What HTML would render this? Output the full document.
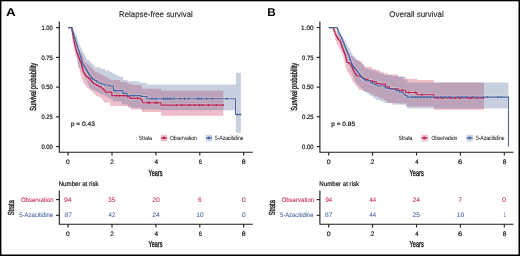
<!DOCTYPE html>
<html><head><meta charset="utf-8"><style>
html,body{margin:0;padding:0;background:#fff;}
svg{display:block;will-change:transform;}
text{font-family:"Liberation Sans",sans-serif;text-rendering:geometricPrecision;}
</style></head><body>
<svg width="520" height="256" viewBox="0 0 520 256">
<rect x="0" y="0" width="520" height="256" fill="#fff"/>
<path d="M68.10 27.60L71.40 27.60L71.40 27.60L71.77 27.60L71.77 28.80L72.14 28.80L72.14 30.00L72.51 30.00L72.51 31.20L72.89 31.20L72.89 32.40L73.26 32.40L73.26 33.60L73.63 33.60L73.63 34.80L74.00 34.80L74.00 36.00L74.33 36.00L74.33 37.33L74.67 37.33L74.67 38.67L75.00 38.67L75.00 40.00L75.33 40.00L75.33 41.33L75.67 41.33L75.67 42.67L76.00 42.67L76.00 44.00L76.60 44.00L76.60 45.20L77.20 45.20L77.20 46.40L77.80 46.40L77.80 47.60L78.40 47.60L78.40 48.80L79.00 48.80L79.00 50.00L79.76 50.00L79.76 51.20L80.52 51.20L80.52 52.40L81.28 52.40L81.28 53.60L82.04 53.60L82.04 54.80L82.80 54.80L82.80 56.00L83.12 56.00L83.12 57.25L83.44 57.25L83.44 58.50L83.76 58.50L83.76 59.75L84.08 59.75L84.08 61.00L84.40 61.00L84.40 62.25L86.07 62.25L86.07 63.50L87.73 63.50L87.73 64.75L89.40 64.75L89.40 66.00L90.95 66.00L90.95 67.55L92.50 67.55L92.50 69.10L93.75 69.10L93.75 70.55L95.00 70.55L95.00 72.00L98.25 72.00L98.25 73.50L101.50 73.50L101.50 75.00L103.69 75.00L103.69 76.25L105.88 76.25L105.88 77.50L108.06 77.50L108.06 78.75L110.25 78.75L110.25 80.00L120.00 80.00L120.00 81.90L127.50 81.90L127.50 83.75L132.50 83.75L132.50 85.00L141.90 85.00L141.90 88.75L161.25 88.75L161.25 90.80L223.40 90.80L223.40 90.80L223.40 115.80L223.40 115.80L161.00 115.80L161.00 112.00L142.00 112.00L142.00 109.60L130.90 109.60L130.90 107.70L127.75 107.70L127.75 106.10L110.25 106.10L110.25 102.40L104.00 102.40L104.00 101.20L103.25 101.20L103.25 100.00L102.50 100.00L102.50 99.00L101.50 99.00L101.50 98.00L100.50 98.00L100.50 97.00L98.30 97.00L98.30 96.00L96.10 96.00L96.10 95.00L95.17 95.00L95.17 94.00L94.25 94.00L94.25 93.00L93.00 93.00L93.00 92.00L91.75 92.00L91.75 91.00L90.83 91.00L90.83 90.00L89.90 90.00L89.90 89.00L88.40 89.00L88.40 88.00L86.90 88.00L86.90 86.67L85.93 86.67L85.93 85.33L84.97 85.33L84.97 84.00L84.00 84.00L84.00 82.67L83.33 82.67L83.33 81.33L82.67 81.33L82.67 80.00L82.00 80.00L82.00 78.67L81.65 78.67L81.65 77.33L81.30 77.33L81.30 76.00L80.95 76.00L80.95 74.67L80.60 74.67L80.60 73.33L80.25 73.33L80.25 72.00L79.90 72.00L79.90 70.67L79.59 70.67L79.59 69.33L79.28 69.33L79.28 68.00L78.97 68.00L78.97 66.67L78.66 66.67L78.66 65.33L78.34 65.33L78.34 64.00L78.03 64.00L78.03 62.67L77.72 62.67L77.72 61.33L77.41 61.33L77.41 60.00L77.10 60.00L77.10 58.67L76.68 58.67L76.68 57.33L76.27 57.33L76.27 56.00L75.85 56.00L75.85 54.67L75.43 54.67L75.43 53.33L75.02 53.33L75.02 52.00L74.60 52.00L74.60 50.67L74.29 50.67L74.29 49.33L73.98 49.33L73.98 48.00L73.67 48.00L73.67 46.67L73.37 46.67L73.37 45.33L73.06 45.33L73.06 44.00L72.75 44.00L72.75 42.67L72.59 42.67L72.59 41.33L72.43 41.33L72.43 40.00L72.28 40.00L72.28 38.67L72.12 38.67L72.12 37.33L71.96 37.33L71.96 36.00L71.80 36.00L71.80 34.80L71.74 34.80L71.74 33.60L71.69 33.60L71.69 32.40L71.63 32.40L71.63 31.20L71.57 31.20L71.57 30.00L71.51 30.00L71.51 28.80L71.46 28.80L71.46 27.60L71.40 27.60L71.40 27.60L68.10 27.60Z" fill="#C2183F" fill-opacity="0.28"/>
<path d="M68.10 27.60L71.80 27.60L71.80 27.60L72.47 27.60L72.47 28.80L73.14 28.80L73.14 30.00L73.81 30.00L73.81 31.20L74.49 31.20L74.49 32.40L75.16 32.40L75.16 33.60L75.83 33.60L75.83 34.80L76.50 34.80L76.50 36.00L76.92 36.00L76.92 37.33L77.33 37.33L77.33 38.67L77.75 38.67L77.75 40.00L78.17 40.00L78.17 41.33L78.58 41.33L78.58 42.67L79.00 42.67L79.00 44.00L79.62 44.00L79.62 45.33L80.25 45.33L80.25 46.67L80.88 46.67L80.88 48.00L81.50 48.00L81.50 49.33L82.12 49.33L82.12 50.67L82.75 50.67L82.75 52.00L83.47 52.00L83.47 53.33L84.20 53.33L84.20 54.67L84.92 54.67L84.92 56.00L85.65 56.00L85.65 57.33L86.38 57.33L86.38 58.67L87.10 58.67L87.10 60.00L89.30 60.00L89.30 61.50L90.72 61.50L90.72 62.92L92.15 62.92L92.15 64.35L93.58 64.35L93.58 65.78L95.00 65.78L95.00 67.20L100.60 67.20L100.60 69.10L105.00 69.10L105.00 70.55L109.40 70.55L109.40 72.00L112.18 72.00L112.18 73.42L114.97 73.42L114.97 74.83L117.75 74.83L117.75 76.25L120.00 76.25L120.00 76.90L123.10 76.90L123.10 80.00L127.50 80.00L127.50 81.25L139.40 81.25L139.40 82.75L146.90 82.75L146.90 84.60L235.90 84.60L235.90 72.75L240.90 72.75L240.90 72.75L240.90 132.75L240.90 132.75L235.90 132.75L235.90 110.20L161.00 110.20L161.00 109.40L141.00 109.40L141.00 107.75L131.00 107.75L131.00 106.10L127.75 106.10L127.75 104.25L122.00 104.25L122.00 101.40L113.40 101.40L113.40 100.00L112.40 100.00L112.40 99.00L110.50 99.00L110.50 98.00L108.60 98.00L108.60 97.00L106.75 97.00L106.75 96.00L104.90 96.00L104.90 95.00L102.70 95.00L102.70 94.00L100.50 94.00L100.50 93.00L98.62 93.00L98.62 92.00L96.75 92.00L96.75 91.00L94.58 91.00L94.58 90.00L92.40 90.00L92.40 89.00L90.95 89.00L90.95 88.00L89.50 88.00L89.50 86.67L89.03 86.67L89.03 85.33L88.57 85.33L88.57 84.00L88.10 84.00L88.10 82.67L87.40 82.67L87.40 81.33L86.70 81.33L86.70 80.00L86.00 80.00L86.00 78.67L85.38 78.67L85.38 77.33L84.77 77.33L84.77 76.00L84.15 76.00L84.15 74.67L83.53 74.67L83.53 73.33L82.92 73.33L82.92 72.00L82.30 72.00L82.30 70.67L81.03 70.67L81.03 69.33L79.77 69.33L79.77 68.00L78.50 68.00L78.50 66.67L78.28 66.67L78.28 65.33L78.06 65.33L78.06 64.00L77.83 64.00L77.83 62.67L77.61 62.67L77.61 61.33L77.39 61.33L77.39 60.00L77.17 60.00L77.17 58.67L76.94 58.67L76.94 57.33L76.72 57.33L76.72 56.00L76.50 56.00L76.50 54.67L76.29 54.67L76.29 53.33L76.08 53.33L76.08 52.00L75.87 52.00L75.87 50.67L75.66 50.67L75.66 49.33L75.44 49.33L75.44 48.00L75.23 48.00L75.23 46.67L75.02 46.67L75.02 45.33L74.81 45.33L74.81 44.00L74.60 44.00L74.60 42.67L74.30 42.67L74.30 41.33L74.00 41.33L74.00 40.00L73.70 40.00L73.70 38.67L73.40 38.67L73.40 37.33L73.10 37.33L73.10 36.00L72.80 36.00L72.80 34.80L72.66 34.80L72.66 33.60L72.51 33.60L72.51 32.40L72.37 32.40L72.37 31.20L72.23 31.20L72.23 30.00L72.09 30.00L72.09 28.80L71.94 28.80L71.94 27.60L71.80 27.60L71.80 27.60L68.10 27.60Z" fill="#4A6396" fill-opacity="0.3"/>
<path d="M68.10 27.60L71.40 27.60L71.40 27.60L71.63 27.60L71.63 28.80L71.86 28.80L71.86 30.00L72.09 30.00L72.09 31.20L72.31 31.20L72.31 32.40L72.54 32.40L72.54 33.60L72.77 33.60L72.77 34.80L73.00 34.80L73.00 36.00L73.27 36.00L73.27 37.33L73.53 37.33L73.53 38.67L73.80 38.67L73.80 40.00L74.07 40.00L74.07 41.33L74.33 41.33L74.33 42.67L74.60 42.67L74.60 44.00L74.92 44.00L74.92 45.33L75.23 45.33L75.23 46.67L75.55 46.67L75.55 48.00L75.87 48.00L75.87 49.33L76.18 49.33L76.18 50.67L76.50 50.67L76.50 52.00L77.02 52.00L77.02 53.33L77.53 53.33L77.53 54.67L78.05 54.67L78.05 56.00L78.57 56.00L78.57 57.33L79.08 57.33L79.08 58.67L79.60 58.67L79.60 60.00L80.15 60.00L80.15 61.33L80.70 61.33L80.70 62.67L81.25 62.67L81.25 64.00L81.59 64.00L81.59 65.33L81.93 65.33L81.93 66.67L82.28 66.67L82.28 68.00L82.62 68.00L82.62 69.33L82.96 69.33L82.96 70.67L83.30 70.67L83.30 72.00L84.03 72.00L84.03 73.33L84.77 73.33L84.77 74.67L85.50 74.67L85.50 76.00L87.07 76.00L87.07 77.33L88.63 77.33L88.63 78.67L90.20 78.67L90.20 80.00L91.33 80.00L91.33 81.33L92.47 81.33L92.47 82.67L93.60 82.67L93.60 84.00L96.10 84.00L96.10 85.33L98.60 85.33L98.60 86.67L101.10 86.67L101.10 88.00L102.55 88.00L102.55 89.12L104.00 89.12L104.00 90.25L105.25 90.25L105.25 92.10L111.80 92.10L111.80 95.60L127.10 95.60L127.10 96.80L130.25 96.80L130.25 98.40L141.00 98.40L141.00 100.25L142.50 100.25L142.50 102.75L161.00 102.75L161.00 105.10L223.75 105.10L223.75 105.10" fill="none" stroke="#fff" stroke-opacity="0.22" stroke-width="3.0"/>
<path d="M68.10 27.60L71.80 27.60L71.80 27.60L72.11 27.60L72.11 28.80L72.43 28.80L72.43 30.00L72.74 30.00L72.74 31.20L73.06 31.20L73.06 32.40L73.37 32.40L73.37 33.60L73.69 33.60L73.69 34.80L74.00 34.80L74.00 36.00L74.42 36.00L74.42 37.33L74.83 37.33L74.83 38.67L75.25 38.67L75.25 40.00L75.67 40.00L75.67 41.33L76.08 41.33L76.08 42.67L76.50 42.67L76.50 44.00L76.92 44.00L76.92 45.33L77.33 45.33L77.33 46.67L77.75 46.67L77.75 48.00L78.17 48.00L78.17 49.33L78.58 49.33L78.58 50.67L79.00 50.67L79.00 52.00L79.42 52.00L79.42 53.33L79.83 53.33L79.83 54.67L80.25 54.67L80.25 56.00L80.67 56.00L80.67 57.33L81.08 57.33L81.08 58.67L81.50 58.67L81.50 60.00L81.83 60.00L81.83 61.33L82.17 61.33L82.17 62.67L82.50 62.67L82.50 64.00L83.32 64.00L83.32 65.33L84.13 65.33L84.13 66.67L84.95 66.67L84.95 68.00L85.77 68.00L85.77 69.33L86.58 69.33L86.58 70.67L87.40 70.67L87.40 72.00L88.13 72.00L88.13 73.33L88.87 73.33L88.87 74.67L89.60 74.67L89.60 76.00L91.00 76.00L91.00 77.50L92.40 77.50L92.40 79.00L94.58 79.00L94.58 80.50L96.75 80.50L96.75 82.00L98.92 82.00L98.92 83.00L101.10 83.00L101.10 84.00L104.25 84.00L104.25 85.00L109.25 85.00L109.25 86.00L113.40 86.00L113.40 90.60L122.75 90.60L122.75 93.40L127.10 93.40L127.10 95.60L141.00 95.60L141.00 96.50L146.90 96.50L146.90 98.70L235.50 98.70L235.50 114.50L241.50 114.50L241.50 114.50" fill="none" stroke="#fff" stroke-opacity="0.22" stroke-width="3.0"/>
<path d="M68.10 27.60L71.40 27.60L71.40 27.60L71.63 27.60L71.63 28.80L71.86 28.80L71.86 30.00L72.09 30.00L72.09 31.20L72.31 31.20L72.31 32.40L72.54 32.40L72.54 33.60L72.77 33.60L72.77 34.80L73.00 34.80L73.00 36.00L73.27 36.00L73.27 37.33L73.53 37.33L73.53 38.67L73.80 38.67L73.80 40.00L74.07 40.00L74.07 41.33L74.33 41.33L74.33 42.67L74.60 42.67L74.60 44.00L74.92 44.00L74.92 45.33L75.23 45.33L75.23 46.67L75.55 46.67L75.55 48.00L75.87 48.00L75.87 49.33L76.18 49.33L76.18 50.67L76.50 50.67L76.50 52.00L77.02 52.00L77.02 53.33L77.53 53.33L77.53 54.67L78.05 54.67L78.05 56.00L78.57 56.00L78.57 57.33L79.08 57.33L79.08 58.67L79.60 58.67L79.60 60.00L80.15 60.00L80.15 61.33L80.70 61.33L80.70 62.67L81.25 62.67L81.25 64.00L81.59 64.00L81.59 65.33L81.93 65.33L81.93 66.67L82.28 66.67L82.28 68.00L82.62 68.00L82.62 69.33L82.96 69.33L82.96 70.67L83.30 70.67L83.30 72.00L84.03 72.00L84.03 73.33L84.77 73.33L84.77 74.67L85.50 74.67L85.50 76.00L87.07 76.00L87.07 77.33L88.63 77.33L88.63 78.67L90.20 78.67L90.20 80.00L91.33 80.00L91.33 81.33L92.47 81.33L92.47 82.67L93.60 82.67L93.60 84.00L96.10 84.00L96.10 85.33L98.60 85.33L98.60 86.67L101.10 86.67L101.10 88.00L102.55 88.00L102.55 89.12L104.00 89.12L104.00 90.25L105.25 90.25L105.25 92.10L111.80 92.10L111.80 95.60L127.10 95.60L127.10 96.80L130.25 96.80L130.25 98.40L141.00 98.40L141.00 100.25L142.50 100.25L142.50 102.75L161.00 102.75L161.00 105.10L223.75 105.10L223.75 105.10" fill="none" stroke="#BF2350" stroke-width="1.15"/>
<path d="M68.10 27.60L71.80 27.60L71.80 27.60L72.11 27.60L72.11 28.80L72.43 28.80L72.43 30.00L72.74 30.00L72.74 31.20L73.06 31.20L73.06 32.40L73.37 32.40L73.37 33.60L73.69 33.60L73.69 34.80L74.00 34.80L74.00 36.00L74.42 36.00L74.42 37.33L74.83 37.33L74.83 38.67L75.25 38.67L75.25 40.00L75.67 40.00L75.67 41.33L76.08 41.33L76.08 42.67L76.50 42.67L76.50 44.00L76.92 44.00L76.92 45.33L77.33 45.33L77.33 46.67L77.75 46.67L77.75 48.00L78.17 48.00L78.17 49.33L78.58 49.33L78.58 50.67L79.00 50.67L79.00 52.00L79.42 52.00L79.42 53.33L79.83 53.33L79.83 54.67L80.25 54.67L80.25 56.00L80.67 56.00L80.67 57.33L81.08 57.33L81.08 58.67L81.50 58.67L81.50 60.00L81.83 60.00L81.83 61.33L82.17 61.33L82.17 62.67L82.50 62.67L82.50 64.00L83.32 64.00L83.32 65.33L84.13 65.33L84.13 66.67L84.95 66.67L84.95 68.00L85.77 68.00L85.77 69.33L86.58 69.33L86.58 70.67L87.40 70.67L87.40 72.00L88.13 72.00L88.13 73.33L88.87 73.33L88.87 74.67L89.60 74.67L89.60 76.00L91.00 76.00L91.00 77.50L92.40 77.50L92.40 79.00L94.58 79.00L94.58 80.50L96.75 80.50L96.75 82.00L98.92 82.00L98.92 83.00L101.10 83.00L101.10 84.00L104.25 84.00L104.25 85.00L109.25 85.00L109.25 86.00L113.40 86.00L113.40 90.60L122.75 90.60L122.75 93.40L127.10 93.40L127.10 95.60L141.00 95.60L141.00 96.50L146.90 96.50L146.90 98.70L235.50 98.70L235.50 114.50L241.50 114.50L241.50 114.50" fill="none" stroke="#4A66A2" stroke-width="1.1"/>
<g fill="#BF2350"><ellipse cx="116.50" cy="95.60" rx="0.75" ry="1.2"/><ellipse cx="119.30" cy="95.60" rx="0.75" ry="1.2"/><ellipse cx="124.00" cy="95.60" rx="0.75" ry="1.2"/><ellipse cx="137.50" cy="98.40" rx="0.75" ry="1.2"/><ellipse cx="148.00" cy="102.75" rx="0.75" ry="1.2"/><ellipse cx="149.40" cy="102.75" rx="0.75" ry="1.2"/><ellipse cx="155.00" cy="102.75" rx="0.75" ry="1.2"/><ellipse cx="157.00" cy="102.75" rx="0.75" ry="1.2"/><ellipse cx="176.60" cy="105.10" rx="0.75" ry="1.2"/><ellipse cx="182.00" cy="105.10" rx="0.75" ry="1.2"/><ellipse cx="189.40" cy="105.10" rx="0.75" ry="1.2"/><ellipse cx="194.50" cy="105.10" rx="0.75" ry="1.2"/><ellipse cx="199.50" cy="105.10" rx="0.75" ry="1.2"/><ellipse cx="202.50" cy="105.10" rx="0.75" ry="1.2"/><ellipse cx="208.50" cy="105.10" rx="0.75" ry="1.2"/><ellipse cx="216.50" cy="105.10" rx="0.75" ry="1.2"/><ellipse cx="223.00" cy="105.10" rx="0.75" ry="1.2"/></g>
<g fill="#4A66A2"><ellipse cx="92.50" cy="79.00" rx="0.75" ry="1.2"/><ellipse cx="115.00" cy="90.60" rx="0.75" ry="1.2"/><ellipse cx="133.40" cy="95.60" rx="0.75" ry="1.2"/><ellipse cx="152.00" cy="98.70" rx="0.75" ry="1.2"/><ellipse cx="156.00" cy="98.70" rx="0.75" ry="1.2"/><ellipse cx="163.40" cy="98.70" rx="0.75" ry="1.2"/><ellipse cx="165.30" cy="98.70" rx="0.75" ry="1.2"/><ellipse cx="167.50" cy="98.70" rx="0.75" ry="1.2"/><ellipse cx="169.40" cy="98.70" rx="0.75" ry="1.2"/><ellipse cx="171.20" cy="98.70" rx="0.75" ry="1.2"/><ellipse cx="174.00" cy="98.70" rx="0.75" ry="1.2"/><ellipse cx="180.30" cy="98.70" rx="0.75" ry="1.2"/><ellipse cx="184.40" cy="98.70" rx="0.75" ry="1.2"/><ellipse cx="188.30" cy="98.70" rx="0.75" ry="1.2"/><ellipse cx="197.50" cy="98.70" rx="0.75" ry="1.2"/><ellipse cx="199.00" cy="98.70" rx="0.75" ry="1.2"/><ellipse cx="201.50" cy="98.70" rx="0.75" ry="1.2"/><ellipse cx="206.50" cy="98.70" rx="0.75" ry="1.2"/><ellipse cx="212.50" cy="98.70" rx="0.75" ry="1.2"/><ellipse cx="227.00" cy="98.70" rx="0.75" ry="1.2"/><ellipse cx="237.50" cy="114.50" rx="0.75" ry="1.2"/><ellipse cx="240.00" cy="114.50" rx="0.75" ry="1.2"/></g>
<path d="M328.80 27.60L333.00 27.60L333.00 27.60L334.00 27.60L334.00 28.88L335.00 28.88L335.00 30.16L336.00 30.16L336.00 31.44L337.00 31.44L337.00 32.72L338.00 32.72L338.00 34.00L338.67 34.00L338.67 35.33L339.33 35.33L339.33 36.67L340.00 36.67L340.00 38.00L340.67 38.00L340.67 39.33L341.33 39.33L341.33 40.67L342.00 40.67L342.00 42.00L342.83 42.00L342.83 43.33L343.67 43.33L343.67 44.67L344.50 44.67L344.50 46.00L345.33 46.00L345.33 47.33L346.17 47.33L346.17 48.67L347.00 48.67L347.00 50.00L347.75 50.00L347.75 51.20L348.50 51.20L348.50 52.40L349.25 52.40L349.25 53.60L350.00 53.60L350.00 54.80L350.75 54.80L350.75 56.00L352.50 56.00L352.50 57.33L354.25 57.33L354.25 58.67L356.00 58.67L356.00 60.00L358.50 60.00L358.50 61.25L361.00 61.25L361.00 62.50L362.25 62.50L362.25 64.00L363.62 64.00L363.62 65.50L365.00 65.50L365.00 67.00L371.90 67.00L371.90 68.90L375.60 68.90L375.60 70.10L379.68 70.10L379.68 71.67L383.75 71.67L383.75 73.25L388.00 73.25L388.00 74.50L398.00 74.50L398.00 77.00L406.00 77.00L406.00 78.75L417.00 78.75L417.00 80.00L433.90 80.00L433.90 82.60L484.00 82.60L484.00 82.60L484.00 109.80L484.00 109.80L433.90 109.80L433.90 106.60L407.00 106.60L407.00 103.50L398.25 103.50L398.25 103.00L387.50 103.00L387.50 101.50L385.62 101.50L385.62 100.00L383.75 100.00L383.75 98.67L380.63 98.67L380.63 97.33L377.52 97.33L377.52 96.00L374.40 96.00L374.40 94.67L371.68 94.67L371.68 93.33L368.97 93.33L368.97 92.00L366.25 92.00L366.25 91.00L362.62 91.00L362.62 90.00L359.00 90.00L359.00 88.67L357.97 88.67L357.97 87.33L356.93 87.33L356.93 86.00L355.90 86.00L355.90 84.67L354.85 84.67L354.85 83.33L353.80 83.33L353.80 82.00L352.75 82.00L352.75 80.80L352.25 80.80L352.25 79.60L351.75 79.60L351.75 78.40L351.25 78.40L351.25 77.20L350.75 77.20L350.75 76.00L350.25 76.00L350.25 74.67L349.20 74.67L349.20 73.33L348.15 73.33L348.15 72.00L347.10 72.00L347.10 70.67L346.73 70.67L346.73 69.33L346.37 69.33L346.37 68.00L346.00 68.00L346.00 66.67L345.63 66.67L345.63 65.33L345.27 65.33L345.27 64.00L344.90 64.00L344.90 62.67L344.53 62.67L344.53 61.33L344.17 61.33L344.17 60.00L343.80 60.00L343.80 58.67L343.50 58.67L343.50 57.33L343.20 57.33L343.20 56.00L342.90 56.00L342.90 54.67L342.23 54.67L342.23 53.33L341.57 53.33L341.57 52.00L340.90 52.00L340.90 50.67L340.23 50.67L340.23 49.33L339.57 49.33L339.57 48.00L338.90 48.00L338.90 46.67L338.27 46.67L338.27 45.33L337.63 45.33L337.63 44.00L337.00 44.00L337.00 42.67L336.37 42.67L336.37 41.33L335.73 41.33L335.73 40.00L335.10 40.00L335.10 38.76L334.89 38.76L334.89 37.52L334.68 37.52L334.68 36.28L334.47 36.28L334.47 35.04L334.26 35.04L334.26 33.80L334.05 33.80L334.05 32.56L333.84 32.56L333.84 31.32L333.63 31.32L333.63 30.08L333.42 30.08L333.42 28.84L333.21 28.84L333.21 27.60L333.00 27.60L333.00 27.60L328.80 27.60Z" fill="#C2183F" fill-opacity="0.28"/>
<path d="M328.80 27.60L336.75 27.60L336.75 27.60L337.50 27.60L337.50 28.88L338.25 28.88L338.25 30.16L339.00 30.16L339.00 31.44L339.75 31.44L339.75 32.72L340.50 32.72L340.50 34.00L341.30 34.00L341.30 35.20L342.10 35.20L342.10 36.40L342.90 36.40L342.90 37.60L343.70 37.60L343.70 38.80L344.50 38.80L344.50 40.00L345.17 40.00L345.17 41.33L345.83 41.33L345.83 42.67L346.50 42.67L346.50 44.00L347.17 44.00L347.17 45.33L347.83 45.33L347.83 46.67L348.50 46.67L348.50 48.00L349.25 48.00L349.25 49.33L350.00 49.33L350.00 50.67L350.75 50.67L350.75 52.00L351.50 52.00L351.50 53.33L352.25 53.33L352.25 54.67L353.00 54.67L353.00 56.00L354.20 56.00L354.20 57.33L355.40 57.33L355.40 58.67L356.60 58.67L356.60 60.00L358.55 60.00L358.55 61.25L360.50 61.25L360.50 62.50L361.38 62.50L361.38 63.50L362.25 63.50L362.25 64.50L363.17 64.50L363.17 65.83L364.08 65.83L364.08 67.17L365.00 67.17L365.00 68.50L368.45 68.50L368.45 69.50L371.90 69.50L371.90 70.50L375.60 70.50L375.60 71.50L378.32 71.50L378.32 72.67L381.03 72.67L381.03 73.83L383.75 73.83L383.75 75.00L392.00 75.00L392.00 76.00L398.00 76.00L398.00 76.25L403.60 76.25L403.60 79.50L407.40 79.50L407.40 82.40L508.50 82.40L508.50 82.40L508.50 108.50L508.50 108.50L484.00 108.50L484.00 108.50L407.00 108.50L407.00 106.50L405.00 106.50L405.00 104.70L398.25 104.70L398.25 104.50L392.00 104.50L392.00 103.00L384.40 103.00L384.40 101.50L380.32 101.50L380.32 100.00L376.25 100.00L376.25 98.67L374.37 98.67L374.37 97.33L372.48 97.33L372.48 96.00L370.60 96.00L370.60 94.67L368.53 94.67L368.53 93.33L366.47 93.33L366.47 92.00L364.40 92.00L364.40 90.67L363.13 90.67L363.13 89.33L361.87 89.33L361.87 88.00L360.60 88.00L360.60 86.80L359.48 86.80L359.48 85.60L358.36 85.60L358.36 84.40L357.24 84.40L357.24 83.20L356.12 83.20L356.12 82.00L355.00 82.00L355.00 80.75L354.56 80.75L354.56 79.50L354.12 79.50L354.12 78.25L353.69 78.25L353.69 77.00L353.25 77.00L353.25 75.75L352.81 75.75L352.81 74.50L352.38 74.50L352.38 73.25L351.94 73.25L351.94 72.00L351.50 72.00L351.50 70.67L350.89 70.67L350.89 69.33L350.28 69.33L350.28 68.00L349.67 68.00L349.67 66.67L349.06 66.67L349.06 65.33L348.44 65.33L348.44 64.00L347.83 64.00L347.83 62.67L347.22 62.67L347.22 61.33L346.61 61.33L346.61 60.00L346.00 60.00L346.00 58.75L345.50 58.75L345.50 57.50L345.00 57.50L345.00 56.25L344.50 56.25L344.50 55.00L344.00 55.00L344.00 53.75L343.50 53.75L343.50 52.50L343.00 52.50L343.00 51.25L342.50 51.25L342.50 50.00L342.00 50.00L342.00 48.75L341.50 48.75L341.50 47.50L341.00 47.50L341.00 46.25L340.50 46.25L340.50 45.00L340.00 45.00L340.00 43.75L339.50 43.75L339.50 42.50L339.00 42.50L339.00 41.25L338.50 41.25L338.50 40.00L338.00 40.00L338.00 38.76L337.88 38.76L337.88 37.52L337.75 37.52L337.75 36.28L337.62 36.28L337.62 35.04L337.50 35.04L337.50 33.80L337.38 33.80L337.38 32.56L337.25 32.56L337.25 31.32L337.12 31.32L337.12 30.08L337.00 30.08L337.00 28.84L336.88 28.84L336.88 27.60L336.75 27.60L336.75 27.60L328.80 27.60Z" fill="#4A6396" fill-opacity="0.3"/>
<path d="M328.80 27.60L333.00 27.60L333.00 27.60L333.44 27.60L333.44 28.88L333.88 28.88L333.88 30.16L334.32 30.16L334.32 31.44L334.76 31.44L334.76 32.72L335.20 32.72L335.20 34.00L335.81 34.00L335.81 35.20L336.42 35.20L336.42 36.40L337.03 36.40L337.03 37.60L337.64 37.60L337.64 38.80L338.25 38.80L338.25 40.00L340.10 40.00L340.10 41.00L340.47 41.00L340.47 42.17L340.83 42.17L340.83 43.33L341.20 43.33L341.20 44.50L341.57 44.50L341.57 45.67L341.93 45.67L341.93 46.83L342.30 46.83L342.30 48.00L342.82 48.00L342.82 49.33L343.33 49.33L343.33 50.67L343.85 50.67L343.85 52.00L344.37 52.00L344.37 53.33L344.88 53.33L344.88 54.67L345.40 54.67L345.40 56.00L345.70 56.00L345.70 57.33L346.00 57.33L346.00 58.67L346.30 58.67L346.30 60.00L346.60 60.00L346.60 61.25L346.90 61.25L346.90 62.50L348.95 62.50L348.95 63.75L351.00 63.75L351.00 65.00L351.50 65.00L351.50 66.17L352.00 66.17L352.00 67.33L352.50 67.33L352.50 68.50L353.00 68.50L353.00 69.67L353.50 69.67L353.50 70.83L354.00 70.83L354.00 72.00L354.83 72.00L354.83 73.33L355.67 73.33L355.67 74.67L356.50 74.67L356.50 76.00L360.00 76.00L360.00 77.00L362.50 77.00L362.50 78.20L365.00 78.20L365.00 79.40L368.10 79.40L368.10 80.70L372.50 80.70L372.50 81.60L376.25 81.60L376.25 83.50L380.00 83.50L380.00 84.10L385.60 84.10L385.60 86.90L389.40 86.90L389.40 88.80L398.25 88.80L398.25 90.25L405.75 90.25L405.75 92.50L417.00 92.50L417.00 94.75L433.90 94.75L433.90 97.90L484.00 97.90L484.00 97.90" fill="none" stroke="#fff" stroke-opacity="0.22" stroke-width="3.0"/>
<path d="M328.80 27.60L336.75 27.60L336.75 27.60L337.25 27.60L337.25 28.88L337.75 28.88L337.75 30.16L338.25 30.16L338.25 31.44L338.75 31.44L338.75 32.72L339.25 32.72L339.25 34.00L339.86 34.00L339.86 35.20L340.47 35.20L340.47 36.40L341.08 36.40L341.08 37.60L341.69 37.60L341.69 38.80L342.30 38.80L342.30 40.00L342.82 40.00L342.82 41.33L343.33 41.33L343.33 42.67L343.85 42.67L343.85 44.00L344.37 44.00L344.37 45.33L344.88 45.33L344.88 46.67L345.40 46.67L345.40 48.00L345.97 48.00L345.97 49.33L346.53 49.33L346.53 50.67L347.10 50.67L347.10 52.00L347.67 52.00L347.67 53.33L348.23 53.33L348.23 54.67L348.80 54.67L348.80 56.00L349.20 56.00L349.20 57.33L349.60 57.33L349.60 58.67L350.00 58.67L350.00 60.00L350.50 60.00L350.50 61.25L351.00 61.25L351.00 62.50L351.53 62.50L351.53 63.67L352.07 63.67L352.07 64.83L352.60 64.83L352.60 66.00L353.56 66.00L353.56 67.20L354.52 67.20L354.52 68.40L355.48 68.40L355.48 69.60L356.44 69.60L356.44 70.80L357.40 70.80L357.40 72.00L358.35 72.00L358.35 73.33L359.30 73.33L359.30 74.67L360.25 74.67L360.25 76.00L361.44 76.00L361.44 77.17L362.62 77.17L362.62 78.35L363.81 78.35L363.81 79.53L365.00 79.53L365.00 80.70L370.60 80.70L370.60 82.60L372.80 82.60L372.80 83.80L375.00 83.80L375.00 85.00L377.50 85.00L377.50 86.00L385.00 86.00L385.00 87.90L387.50 87.90L387.50 88.50L392.00 88.50L392.00 89.25L395.75 89.25L395.75 90.67L399.50 90.67L399.50 92.10L403.25 92.10L403.25 94.00L405.12 94.00L405.12 95.55L407.00 95.55L407.00 97.10L508.50 97.10L508.50 146.60" fill="none" stroke="#fff" stroke-opacity="0.22" stroke-width="3.0"/>
<path d="M328.80 27.60L333.00 27.60L333.00 27.60L333.44 27.60L333.44 28.88L333.88 28.88L333.88 30.16L334.32 30.16L334.32 31.44L334.76 31.44L334.76 32.72L335.20 32.72L335.20 34.00L335.81 34.00L335.81 35.20L336.42 35.20L336.42 36.40L337.03 36.40L337.03 37.60L337.64 37.60L337.64 38.80L338.25 38.80L338.25 40.00L340.10 40.00L340.10 41.00L340.47 41.00L340.47 42.17L340.83 42.17L340.83 43.33L341.20 43.33L341.20 44.50L341.57 44.50L341.57 45.67L341.93 45.67L341.93 46.83L342.30 46.83L342.30 48.00L342.82 48.00L342.82 49.33L343.33 49.33L343.33 50.67L343.85 50.67L343.85 52.00L344.37 52.00L344.37 53.33L344.88 53.33L344.88 54.67L345.40 54.67L345.40 56.00L345.70 56.00L345.70 57.33L346.00 57.33L346.00 58.67L346.30 58.67L346.30 60.00L346.60 60.00L346.60 61.25L346.90 61.25L346.90 62.50L348.95 62.50L348.95 63.75L351.00 63.75L351.00 65.00L351.50 65.00L351.50 66.17L352.00 66.17L352.00 67.33L352.50 67.33L352.50 68.50L353.00 68.50L353.00 69.67L353.50 69.67L353.50 70.83L354.00 70.83L354.00 72.00L354.83 72.00L354.83 73.33L355.67 73.33L355.67 74.67L356.50 74.67L356.50 76.00L360.00 76.00L360.00 77.00L362.50 77.00L362.50 78.20L365.00 78.20L365.00 79.40L368.10 79.40L368.10 80.70L372.50 80.70L372.50 81.60L376.25 81.60L376.25 83.50L380.00 83.50L380.00 84.10L385.60 84.10L385.60 86.90L389.40 86.90L389.40 88.80L398.25 88.80L398.25 90.25L405.75 90.25L405.75 92.50L417.00 92.50L417.00 94.75L433.90 94.75L433.90 97.90L484.00 97.90L484.00 97.90" fill="none" stroke="#BF2350" stroke-width="1.15"/>
<path d="M328.80 27.60L336.75 27.60L336.75 27.60L337.25 27.60L337.25 28.88L337.75 28.88L337.75 30.16L338.25 30.16L338.25 31.44L338.75 31.44L338.75 32.72L339.25 32.72L339.25 34.00L339.86 34.00L339.86 35.20L340.47 35.20L340.47 36.40L341.08 36.40L341.08 37.60L341.69 37.60L341.69 38.80L342.30 38.80L342.30 40.00L342.82 40.00L342.82 41.33L343.33 41.33L343.33 42.67L343.85 42.67L343.85 44.00L344.37 44.00L344.37 45.33L344.88 45.33L344.88 46.67L345.40 46.67L345.40 48.00L345.97 48.00L345.97 49.33L346.53 49.33L346.53 50.67L347.10 50.67L347.10 52.00L347.67 52.00L347.67 53.33L348.23 53.33L348.23 54.67L348.80 54.67L348.80 56.00L349.20 56.00L349.20 57.33L349.60 57.33L349.60 58.67L350.00 58.67L350.00 60.00L350.50 60.00L350.50 61.25L351.00 61.25L351.00 62.50L351.53 62.50L351.53 63.67L352.07 63.67L352.07 64.83L352.60 64.83L352.60 66.00L353.56 66.00L353.56 67.20L354.52 67.20L354.52 68.40L355.48 68.40L355.48 69.60L356.44 69.60L356.44 70.80L357.40 70.80L357.40 72.00L358.35 72.00L358.35 73.33L359.30 73.33L359.30 74.67L360.25 74.67L360.25 76.00L361.44 76.00L361.44 77.17L362.62 77.17L362.62 78.35L363.81 78.35L363.81 79.53L365.00 79.53L365.00 80.70L370.60 80.70L370.60 82.60L372.80 82.60L372.80 83.80L375.00 83.80L375.00 85.00L377.50 85.00L377.50 86.00L385.00 86.00L385.00 87.90L387.50 87.90L387.50 88.50L392.00 88.50L392.00 89.25L395.75 89.25L395.75 90.67L399.50 90.67L399.50 92.10L403.25 92.10L403.25 94.00L405.12 94.00L405.12 95.55L407.00 95.55L407.00 97.10L508.50 97.10L508.50 146.60" fill="none" stroke="#4A66A2" stroke-width="1.1"/>
<g fill="#BF2350"><ellipse cx="402.20" cy="90.25" rx="0.75" ry="1.2"/><ellipse cx="409.00" cy="92.50" rx="0.75" ry="1.2"/><ellipse cx="415.60" cy="92.50" rx="0.75" ry="1.2"/><ellipse cx="422.00" cy="94.75" rx="0.75" ry="1.2"/><ellipse cx="437.00" cy="97.90" rx="0.75" ry="1.2"/><ellipse cx="442.00" cy="97.90" rx="0.75" ry="1.2"/><ellipse cx="450.50" cy="97.90" rx="0.75" ry="1.2"/><ellipse cx="455.00" cy="97.90" rx="0.75" ry="1.2"/><ellipse cx="460.00" cy="97.90" rx="0.75" ry="1.2"/><ellipse cx="469.00" cy="97.90" rx="0.75" ry="1.2"/><ellipse cx="471.50" cy="97.90" rx="0.75" ry="1.2"/><ellipse cx="477.00" cy="97.90" rx="0.75" ry="1.2"/><ellipse cx="483.50" cy="97.90" rx="0.75" ry="1.2"/></g>
<g fill="#4A66A2"><ellipse cx="412.00" cy="97.10" rx="0.75" ry="1.2"/><ellipse cx="415.00" cy="97.10" rx="0.75" ry="1.2"/><ellipse cx="418.00" cy="97.10" rx="0.75" ry="1.2"/><ellipse cx="421.00" cy="97.10" rx="0.75" ry="1.2"/><ellipse cx="424.00" cy="97.10" rx="0.75" ry="1.2"/><ellipse cx="427.00" cy="97.10" rx="0.75" ry="1.2"/><ellipse cx="430.00" cy="97.10" rx="0.75" ry="1.2"/><ellipse cx="441.00" cy="97.10" rx="0.75" ry="1.2"/><ellipse cx="445.00" cy="97.10" rx="0.75" ry="1.2"/><ellipse cx="448.50" cy="97.10" rx="0.75" ry="1.2"/><ellipse cx="458.00" cy="97.10" rx="0.75" ry="1.2"/><ellipse cx="462.00" cy="97.10" rx="0.75" ry="1.2"/><ellipse cx="466.50" cy="97.10" rx="0.75" ry="1.2"/><ellipse cx="473.00" cy="97.10" rx="0.75" ry="1.2"/><ellipse cx="487.50" cy="97.10" rx="0.75" ry="1.2"/><ellipse cx="498.00" cy="97.10" rx="0.75" ry="1.2"/><ellipse cx="501.00" cy="97.10" rx="0.75" ry="1.2"/></g>
<g stroke="#1a1a1a" stroke-width="1.1" fill="none">
<path d="M59.30 21.5 V152.2 H252.80"/>
<line x1="56.10" y1="146.60" x2="59.30" y2="146.60"/>
<line x1="56.10" y1="116.85" x2="59.30" y2="116.85"/>
<line x1="56.10" y1="87.10" x2="59.30" y2="87.10"/>
<line x1="56.10" y1="57.35" x2="59.30" y2="57.35"/>
<line x1="56.10" y1="27.60" x2="59.30" y2="27.60"/>
<line x1="68.10" y1="152.2" x2="68.10" y2="155.4"/>
<line x1="112.00" y1="152.2" x2="112.00" y2="155.4"/>
<line x1="155.90" y1="152.2" x2="155.90" y2="155.4"/>
<line x1="199.80" y1="152.2" x2="199.80" y2="155.4"/>
<line x1="243.70" y1="152.2" x2="243.70" y2="155.4"/>
<path d="M59.30 190.5 V224.2 H252.80"/>
<line x1="56.10" y1="199.60" x2="59.30" y2="199.60"/>
<line x1="56.10" y1="215.30" x2="59.30" y2="215.30"/>
<line x1="68.10" y1="224.2" x2="68.10" y2="227.4"/>
<line x1="112.00" y1="224.2" x2="112.00" y2="227.4"/>
<line x1="155.90" y1="224.2" x2="155.90" y2="227.4"/>
<line x1="199.80" y1="224.2" x2="199.80" y2="227.4"/>
<line x1="243.70" y1="224.2" x2="243.70" y2="227.4"/>
</g>
<g stroke="#1a1a1a" stroke-width="1.1" fill="none">
<path d="M319.90 21.5 V152.2 H513.40"/>
<line x1="316.70" y1="146.60" x2="319.90" y2="146.60"/>
<line x1="316.70" y1="116.85" x2="319.90" y2="116.85"/>
<line x1="316.70" y1="87.10" x2="319.90" y2="87.10"/>
<line x1="316.70" y1="57.35" x2="319.90" y2="57.35"/>
<line x1="316.70" y1="27.60" x2="319.90" y2="27.60"/>
<line x1="328.70" y1="152.2" x2="328.70" y2="155.4"/>
<line x1="372.60" y1="152.2" x2="372.60" y2="155.4"/>
<line x1="416.50" y1="152.2" x2="416.50" y2="155.4"/>
<line x1="460.40" y1="152.2" x2="460.40" y2="155.4"/>
<line x1="504.30" y1="152.2" x2="504.30" y2="155.4"/>
<path d="M319.90 190.5 V224.2 H513.40"/>
<line x1="316.70" y1="199.60" x2="319.90" y2="199.60"/>
<line x1="316.70" y1="215.30" x2="319.90" y2="215.30"/>
<line x1="328.70" y1="224.2" x2="328.70" y2="227.4"/>
<line x1="372.60" y1="224.2" x2="372.60" y2="227.4"/>
<line x1="416.50" y1="224.2" x2="416.50" y2="227.4"/>
<line x1="460.40" y1="224.2" x2="460.40" y2="227.4"/>
<line x1="504.30" y1="224.2" x2="504.30" y2="227.4"/>
</g>
<rect x="160.90" y="134.8" width="6.2" height="6.5" fill="#C2183F" fill-opacity="0.3"/>
<line x1="161.40" y1="136.3" x2="166.60" y2="136.3" stroke="#fff" stroke-opacity="0.4" stroke-width="0.8"/>
<line x1="161.40" y1="139.7" x2="166.60" y2="139.7" stroke="#fff" stroke-opacity="0.4" stroke-width="0.8"/>
<line x1="160.90" y1="138.0" x2="167.10" y2="138.0" stroke="#BF2350" stroke-width="1.2"/>
<ellipse cx="164.00" cy="138.0" rx="1.3" ry="1.4" fill="#BF2350"/>
<rect x="205.90" y="134.8" width="6.2" height="6.5" fill="#4A6396" fill-opacity="0.3"/>
<line x1="206.40" y1="136.3" x2="211.60" y2="136.3" stroke="#fff" stroke-opacity="0.4" stroke-width="0.8"/>
<line x1="206.40" y1="139.7" x2="211.60" y2="139.7" stroke="#fff" stroke-opacity="0.4" stroke-width="0.8"/>
<line x1="205.90" y1="138.0" x2="212.10" y2="138.0" stroke="#4A66A2" stroke-width="1.2"/>
<ellipse cx="209.00" cy="138.0" rx="1.3" ry="1.4" fill="#4A66A2"/>
<rect x="421.50" y="134.8" width="6.2" height="6.5" fill="#C2183F" fill-opacity="0.3"/>
<line x1="422.00" y1="136.3" x2="427.20" y2="136.3" stroke="#fff" stroke-opacity="0.4" stroke-width="0.8"/>
<line x1="422.00" y1="139.7" x2="427.20" y2="139.7" stroke="#fff" stroke-opacity="0.4" stroke-width="0.8"/>
<line x1="421.50" y1="138.0" x2="427.70" y2="138.0" stroke="#BF2350" stroke-width="1.2"/>
<ellipse cx="424.60" cy="138.0" rx="1.3" ry="1.4" fill="#BF2350"/>
<rect x="466.50" y="134.8" width="6.2" height="6.5" fill="#4A6396" fill-opacity="0.3"/>
<line x1="467.00" y1="136.3" x2="472.20" y2="136.3" stroke="#fff" stroke-opacity="0.4" stroke-width="0.8"/>
<line x1="467.00" y1="139.7" x2="472.20" y2="139.7" stroke="#fff" stroke-opacity="0.4" stroke-width="0.8"/>
<line x1="466.50" y1="138.0" x2="472.70" y2="138.0" stroke="#4A66A2" stroke-width="1.2"/>
<ellipse cx="469.60" cy="138.0" rx="1.3" ry="1.4" fill="#4A66A2"/>
<text x="6.10" y="16.40" font-size="11.20" font-weight="bold" fill="#000" textLength="9.75" lengthAdjust="spacingAndGlyphs">A</text>
<text x="267.20" y="16.30" font-size="11.20" font-weight="bold" fill="#000" textLength="8.47" lengthAdjust="spacingAndGlyphs">B</text>
<text x="119.10" y="16.70" font-size="8.20" stroke="#1a1a1a" stroke-width="0.1" fill="#1a1a1a" textLength="73.64" lengthAdjust="spacingAndGlyphs">Relapse-free survival</text>
<text x="389.30" y="16.70" font-size="8.20" stroke="#1a1a1a" stroke-width="0.1" fill="#1a1a1a" textLength="54.39" lengthAdjust="spacingAndGlyphs">Overall survival</text>
<text x="41.50" y="148.80" font-size="6.30" stroke="#1a1a1a" stroke-width="0.2" fill="#1a1a1a" textLength="11.34" lengthAdjust="spacingAndGlyphs">0.00</text>
<text x="41.50" y="119.05" font-size="6.30" stroke="#1a1a1a" stroke-width="0.2" fill="#1a1a1a" textLength="11.34" lengthAdjust="spacingAndGlyphs">0.25</text>
<text x="41.50" y="89.30" font-size="6.30" stroke="#1a1a1a" stroke-width="0.2" fill="#1a1a1a" textLength="11.34" lengthAdjust="spacingAndGlyphs">0.50</text>
<text x="41.50" y="59.55" font-size="6.30" stroke="#1a1a1a" stroke-width="0.2" fill="#1a1a1a" textLength="11.34" lengthAdjust="spacingAndGlyphs">0.75</text>
<text x="41.50" y="29.80" font-size="6.30" stroke="#1a1a1a" stroke-width="0.2" fill="#1a1a1a" textLength="11.34" lengthAdjust="spacingAndGlyphs">1.00</text>
<text x="66.05" y="163.60" font-size="6.40" stroke="#1a1a1a" stroke-width="0.2" fill="#1a1a1a" textLength="3.65" lengthAdjust="spacingAndGlyphs">0</text>
<text x="66.05" y="235.50" font-size="6.40" stroke="#1a1a1a" stroke-width="0.2" fill="#1a1a1a" textLength="3.65" lengthAdjust="spacingAndGlyphs">0</text>
<text x="110.25" y="163.60" font-size="6.40" stroke="#1a1a1a" stroke-width="0.2" fill="#1a1a1a" textLength="3.65" lengthAdjust="spacingAndGlyphs">2</text>
<text x="110.25" y="235.50" font-size="6.40" stroke="#1a1a1a" stroke-width="0.2" fill="#1a1a1a" textLength="3.65" lengthAdjust="spacingAndGlyphs">2</text>
<text x="154.45" y="163.60" font-size="6.40" stroke="#1a1a1a" stroke-width="0.2" fill="#1a1a1a" textLength="3.65" lengthAdjust="spacingAndGlyphs">4</text>
<text x="154.45" y="235.50" font-size="6.40" stroke="#1a1a1a" stroke-width="0.2" fill="#1a1a1a" textLength="3.65" lengthAdjust="spacingAndGlyphs">4</text>
<text x="198.65" y="163.60" font-size="6.40" stroke="#1a1a1a" stroke-width="0.2" fill="#1a1a1a" textLength="3.11" lengthAdjust="spacingAndGlyphs">6</text>
<text x="198.65" y="235.50" font-size="6.40" stroke="#1a1a1a" stroke-width="0.2" fill="#1a1a1a" textLength="3.11" lengthAdjust="spacingAndGlyphs">6</text>
<text x="241.85" y="163.60" font-size="6.40" stroke="#1a1a1a" stroke-width="0.2" fill="#1a1a1a" textLength="3.89" lengthAdjust="spacingAndGlyphs">8</text>
<text x="241.85" y="235.50" font-size="6.40" stroke="#1a1a1a" stroke-width="0.2" fill="#1a1a1a" textLength="3.89" lengthAdjust="spacingAndGlyphs">8</text>
<text transform="rotate(-90)" x="-110.80" y="36.20" font-size="8.80" stroke="#1a1a1a" stroke-width="0.38" fill="#1a1a1a" textLength="47.95" lengthAdjust="spacingAndGlyphs">Survival probability</text>
<text x="148.50" y="175.60" font-size="8.80" stroke="#1a1a1a" stroke-width="0.38" fill="#1a1a1a" textLength="13.94" lengthAdjust="spacingAndGlyphs">Years</text>
<text x="148.50" y="247.10" font-size="8.80" stroke="#1a1a1a" stroke-width="0.38" fill="#1a1a1a" textLength="13.94" lengthAdjust="spacingAndGlyphs">Years</text>
<text x="139.10" y="139.90" font-size="6.20" stroke="#1a1a1a" stroke-width="0.06" fill="#1a1a1a" textLength="12.80" lengthAdjust="spacingAndGlyphs">Strata</text>
<text x="169.90" y="139.90" font-size="6.20" stroke="#1a1a1a" stroke-width="0.06" fill="#1a1a1a" textLength="26.85" lengthAdjust="spacingAndGlyphs">Observation</text>
<text x="214.90" y="139.90" font-size="6.20" stroke="#1a1a1a" stroke-width="0.06" fill="#1a1a1a" textLength="28.71" lengthAdjust="spacingAndGlyphs">5-Azacitidine</text>
<text x="58.70" y="185.80" font-size="6.60" stroke="#1a1a1a" stroke-width="0.2" fill="#1a1a1a" textLength="39.86" lengthAdjust="spacingAndGlyphs">Number at risk</text>
<text x="20.90" y="201.70" font-size="6.60" stroke="#C2284F" stroke-width="0.06" fill="#C2284F" textLength="32.63" lengthAdjust="spacingAndGlyphs">Observation</text>
<text x="19.30" y="217.20" font-size="6.60" stroke="#46619F" stroke-width="0.06" fill="#46619F" textLength="33.74" lengthAdjust="spacingAndGlyphs">5-Azacitidine</text>
<text transform="rotate(-90)" x="-215.15" y="14.00" font-size="8.80" stroke="#1a1a1a" stroke-width="0.38" fill="#1a1a1a" textLength="14.91" lengthAdjust="spacingAndGlyphs">Strata</text>
<text x="302.10" y="148.80" font-size="6.30" stroke="#1a1a1a" stroke-width="0.2" fill="#1a1a1a" textLength="11.59" lengthAdjust="spacingAndGlyphs">0.00</text>
<text x="302.10" y="119.05" font-size="6.30" stroke="#1a1a1a" stroke-width="0.2" fill="#1a1a1a" textLength="11.59" lengthAdjust="spacingAndGlyphs">0.25</text>
<text x="302.10" y="89.30" font-size="6.30" stroke="#1a1a1a" stroke-width="0.2" fill="#1a1a1a" textLength="11.59" lengthAdjust="spacingAndGlyphs">0.50</text>
<text x="302.10" y="59.55" font-size="6.30" stroke="#1a1a1a" stroke-width="0.2" fill="#1a1a1a" textLength="11.59" lengthAdjust="spacingAndGlyphs">0.75</text>
<text x="301.10" y="29.80" font-size="6.30" stroke="#1a1a1a" stroke-width="0.2" fill="#1a1a1a" textLength="12.45" lengthAdjust="spacingAndGlyphs">1.00</text>
<text x="326.85" y="163.60" font-size="6.40" stroke="#1a1a1a" stroke-width="0.2" fill="#1a1a1a" textLength="3.89" lengthAdjust="spacingAndGlyphs">0</text>
<text x="326.85" y="235.50" font-size="6.40" stroke="#1a1a1a" stroke-width="0.2" fill="#1a1a1a" textLength="3.89" lengthAdjust="spacingAndGlyphs">0</text>
<text x="370.55" y="163.60" font-size="6.40" stroke="#1a1a1a" stroke-width="0.2" fill="#1a1a1a" textLength="3.89" lengthAdjust="spacingAndGlyphs">2</text>
<text x="370.55" y="235.50" font-size="6.40" stroke="#1a1a1a" stroke-width="0.2" fill="#1a1a1a" textLength="3.89" lengthAdjust="spacingAndGlyphs">2</text>
<text x="415.25" y="163.60" font-size="6.40" stroke="#1a1a1a" stroke-width="0.2" fill="#1a1a1a" textLength="3.32" lengthAdjust="spacingAndGlyphs">4</text>
<text x="415.25" y="235.50" font-size="6.40" stroke="#1a1a1a" stroke-width="0.2" fill="#1a1a1a" textLength="3.32" lengthAdjust="spacingAndGlyphs">4</text>
<text x="457.95" y="163.60" font-size="6.40" stroke="#1a1a1a" stroke-width="0.2" fill="#1a1a1a" textLength="4.15" lengthAdjust="spacingAndGlyphs">6</text>
<text x="457.95" y="235.50" font-size="6.40" stroke="#1a1a1a" stroke-width="0.2" fill="#1a1a1a" textLength="4.15" lengthAdjust="spacingAndGlyphs">6</text>
<text x="502.65" y="163.60" font-size="6.40" stroke="#1a1a1a" stroke-width="0.2" fill="#1a1a1a" textLength="3.65" lengthAdjust="spacingAndGlyphs">8</text>
<text x="502.65" y="235.50" font-size="6.40" stroke="#1a1a1a" stroke-width="0.2" fill="#1a1a1a" textLength="3.65" lengthAdjust="spacingAndGlyphs">8</text>
<text transform="rotate(-90)" x="-110.80" y="296.80" font-size="8.80" stroke="#1a1a1a" stroke-width="0.38" fill="#1a1a1a" textLength="47.95" lengthAdjust="spacingAndGlyphs">Survival probability</text>
<text x="409.60" y="175.60" font-size="8.80" stroke="#1a1a1a" stroke-width="0.38" fill="#1a1a1a" textLength="14.08" lengthAdjust="spacingAndGlyphs">Years</text>
<text x="409.60" y="247.10" font-size="8.80" stroke="#1a1a1a" stroke-width="0.38" fill="#1a1a1a" textLength="14.08" lengthAdjust="spacingAndGlyphs">Years</text>
<text x="398.60" y="139.90" font-size="6.20" stroke="#1a1a1a" stroke-width="0.06" fill="#1a1a1a" textLength="13.94" lengthAdjust="spacingAndGlyphs">Strata</text>
<text x="431.40" y="139.90" font-size="6.20" stroke="#1a1a1a" stroke-width="0.06" fill="#1a1a1a" textLength="25.89" lengthAdjust="spacingAndGlyphs">Observation</text>
<text x="475.90" y="139.90" font-size="6.20" stroke="#1a1a1a" stroke-width="0.06" fill="#1a1a1a" textLength="28.68" lengthAdjust="spacingAndGlyphs">5-Azacitidine</text>
<text x="319.30" y="185.80" font-size="6.60" stroke="#1a1a1a" stroke-width="0.2" fill="#1a1a1a" textLength="39.84" lengthAdjust="spacingAndGlyphs">Number at risk</text>
<text x="281.50" y="201.70" font-size="6.60" stroke="#C2284F" stroke-width="0.06" fill="#C2284F" textLength="32.66" lengthAdjust="spacingAndGlyphs">Observation</text>
<text x="279.90" y="217.20" font-size="6.60" stroke="#46619F" stroke-width="0.06" fill="#46619F" textLength="33.74" lengthAdjust="spacingAndGlyphs">5-Azacitidine</text>
<text transform="rotate(-90)" x="-215.15" y="274.60" font-size="8.80" stroke="#1a1a1a" stroke-width="0.38" fill="#1a1a1a" textLength="14.91" lengthAdjust="spacingAndGlyphs">Strata</text>
<text x="70.70" y="125.70" font-size="6.30" stroke="#1a1a1a" stroke-width="0.2" fill="#1a1a1a" textLength="24.29" lengthAdjust="spacingAndGlyphs">p = 0.43</text>
<text x="331.35" y="125.70" font-size="6.30" stroke="#1a1a1a" stroke-width="0.2" fill="#1a1a1a" textLength="23.66" lengthAdjust="spacingAndGlyphs">p = 0.85</text>
<text x="64.00" y="201.70" font-size="6.60" stroke="#C2284F" stroke-width="0.06" fill="#C2284F" textLength="7.73" lengthAdjust="spacingAndGlyphs">94</text>
<text x="64.50" y="217.20" font-size="6.60" stroke="#46619F" stroke-width="0.06" fill="#46619F" textLength="7.57" lengthAdjust="spacingAndGlyphs">87</text>
<text x="108.10" y="201.70" font-size="6.60" stroke="#C2284F" stroke-width="0.06" fill="#C2284F" textLength="7.42" lengthAdjust="spacingAndGlyphs">35</text>
<text x="108.60" y="217.20" font-size="6.60" stroke="#46619F" stroke-width="0.06" fill="#46619F" textLength="6.63" lengthAdjust="spacingAndGlyphs">42</text>
<text x="152.20" y="201.70" font-size="6.60" stroke="#C2284F" stroke-width="0.06" fill="#C2284F" textLength="7.57" lengthAdjust="spacingAndGlyphs">20</text>
<text x="152.20" y="217.20" font-size="6.60" stroke="#46619F" stroke-width="0.06" fill="#46619F" textLength="7.57" lengthAdjust="spacingAndGlyphs">24</text>
<text x="198.05" y="201.70" font-size="6.60" stroke="#C2284F" stroke-width="0.06" fill="#C2284F" textLength="3.63" lengthAdjust="spacingAndGlyphs">6</text>
<text x="196.30" y="217.20" font-size="6.60" stroke="#46619F" stroke-width="0.06" fill="#46619F" textLength="7.42" lengthAdjust="spacingAndGlyphs">10</text>
<text x="241.65" y="201.70" font-size="6.60" stroke="#C2284F" stroke-width="0.06" fill="#C2284F" textLength="4.03" lengthAdjust="spacingAndGlyphs">0</text>
<text x="241.65" y="217.20" font-size="6.60" stroke="#46619F" stroke-width="0.06" fill="#46619F" textLength="4.03" lengthAdjust="spacingAndGlyphs">0</text>
<text x="325.40" y="201.70" font-size="6.60" stroke="#C2284F" stroke-width="0.06" fill="#C2284F" textLength="6.63" lengthAdjust="spacingAndGlyphs">94</text>
<text x="324.90" y="217.20" font-size="6.60" stroke="#46619F" stroke-width="0.06" fill="#46619F" textLength="7.57" lengthAdjust="spacingAndGlyphs">87</text>
<text x="369.50" y="201.70" font-size="6.60" stroke="#C2284F" stroke-width="0.06" fill="#C2284F" textLength="6.49" lengthAdjust="spacingAndGlyphs">44</text>
<text x="369.50" y="217.20" font-size="6.60" stroke="#46619F" stroke-width="0.06" fill="#46619F" textLength="6.49" lengthAdjust="spacingAndGlyphs">44</text>
<text x="412.60" y="201.70" font-size="6.60" stroke="#C2284F" stroke-width="0.06" fill="#C2284F" textLength="7.42" lengthAdjust="spacingAndGlyphs">24</text>
<text x="412.60" y="217.20" font-size="6.60" stroke="#46619F" stroke-width="0.06" fill="#46619F" textLength="7.42" lengthAdjust="spacingAndGlyphs">25</text>
<text x="458.15" y="201.70" font-size="6.60" stroke="#C2284F" stroke-width="0.06" fill="#C2284F" textLength="3.84" lengthAdjust="spacingAndGlyphs">7</text>
<text x="456.70" y="217.20" font-size="6.60" stroke="#46619F" stroke-width="0.06" fill="#46619F" textLength="7.42" lengthAdjust="spacingAndGlyphs">10</text>
<text x="502.05" y="201.70" font-size="6.60" stroke="#C2284F" stroke-width="0.06" fill="#C2284F" textLength="4.03" lengthAdjust="spacingAndGlyphs">0</text>
<text x="503.45" y="217.20" font-size="6.60" stroke="#46619F" stroke-width="0.06" fill="#46619F" textLength="2.21" lengthAdjust="spacingAndGlyphs">1</text>
<rect x="0" y="0" width="1.4" height="256" fill="#000"/><rect x="0" y="0" width="520" height="1.3" fill="#000"/><rect x="518.5" y="0" width="1.5" height="256" fill="#000"/><rect x="0" y="254.5" width="520" height="1.5" fill="#000"/>
</svg>
</body></html>
